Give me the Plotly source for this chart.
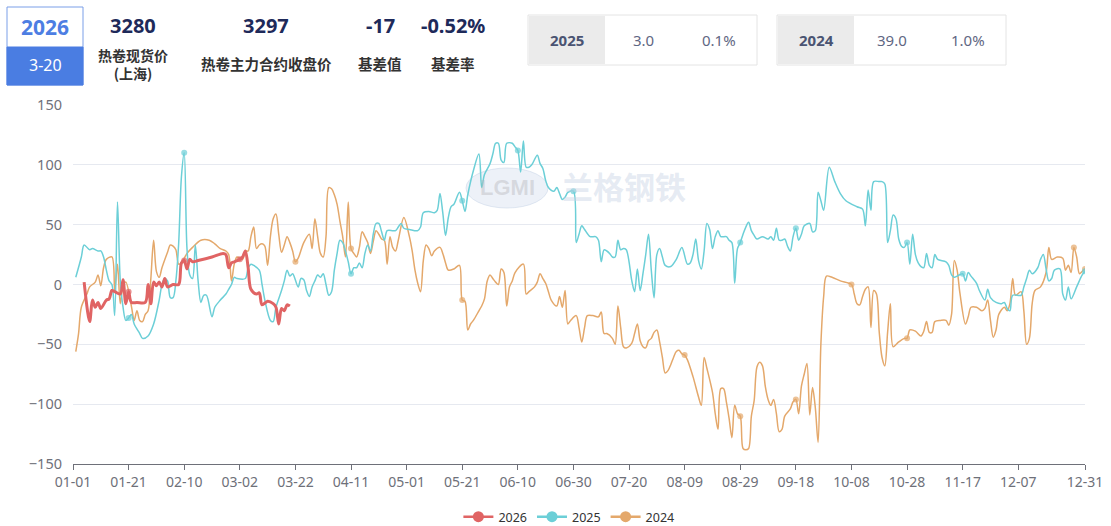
import plotly.graph_objects as go
import pandas as pd

# ---------------- data ----------------
# category axis: calendar days MM-DD (non-leap calendar)
cats = pd.date_range("2025-01-01", "2025-12-31").strftime("%m-%d").tolist()
tick_labels = ["01-01", "01-21", "02-10", "03-02", "03-22", "04-11", "05-01", "05-21",
               "06-10", "06-30", "07-20", "08-09", "08-29", "09-18", "10-08", "10-28",
               "11-17", "12-07", "12-31"]

# day index (0 = 01-01) and basis values
day26 = [4, 6, 7, 8, 9, 10, 12, 13, 14, 15, 17, 18, 19, 20, 21, 23, 26, 27, 28, 29, 30, 31, 32, 33, 34,
         36, 38, 39, 40, 41, 42, 43, 45, 50, 54, 55, 56, 57, 58, 60, 61, 62, 63, 64, 66, 67, 68, 70,
         72, 73, 74, 75, 76, 77, 78]
val26 = [2, -31, -13, -19, -15, -20, -13, -12, -5, -6, -8, 4, -16, -6, -15, -15, -15, 0, -16, 2, -1, 2, -2, 5, -2,
         0, 0, 18, 20, 13, 21, 19, 20, 23, 26, 25, 14, 18, 19, 21, 23, 28, 14, -4, -8, -7, -17, -14,
         -16, -19, -33, -20, -22, -17, -18]

day25 = [1, 3, 4, 6, 7, 9, 10, 11, 12, 13, 14, 15, 16, 17, 18, 19, 20, 21, 22, 24, 25, 27, 29, 31, 32,
         33, 34, 35, 36, 37, 38, 39, 40, 41, 42, 43, 44, 45, 46, 47, 48, 50, 51, 53, 55, 56, 57, 58,
         59, 62, 63, 64, 65, 67, 68, 69, 71, 72, 73, 75, 76, 77, 78, 79, 81, 82, 83, 84, 85, 86, 87,
         88, 89, 90, 91, 92, 93, 94, 95, 96, 97, 98, 99, 100, 101, 102, 103, 104, 105, 106, 107, 108,
         109, 110, 111, 112, 113, 115, 116, 117, 118, 119, 121, 124, 125, 126, 128, 130, 131, 132,
         133, 134, 135, 136, 137, 139, 140, 141, 142, 144, 146, 147, 148, 150, 151, 152, 153, 154,
         155, 156, 158, 159, 160, 161, 162, 163, 164, 165, 167, 168, 169, 170, 171, 173, 174, 175,
         176, 177, 178, 180, 181, 182, 183, 184, 186, 188, 189, 190, 191, 192, 193, 194, 195, 196,
         197, 198, 199, 201, 202, 203, 204, 205, 206, 207, 208, 209, 210, 211, 212, 213, 215, 217,
         219, 221, 222, 223, 224, 225, 226, 227, 228, 229, 230, 231, 232, 233, 235, 236, 237, 238,
         239, 240, 241, 242, 243, 244, 245, 246, 248, 250, 251, 252, 253, 254, 255, 256, 257, 258,
         259, 260, 261, 262, 263, 265, 266, 267, 268, 269, 270, 272, 274, 276, 278, 282, 284, 285,
         286, 287, 288, 290, 291, 292, 293, 294, 295, 296, 297, 298, 299, 300, 301, 302, 303, 304,
         305, 306, 307, 308, 309, 310, 311, 314, 315, 316, 317, 318, 320, 321, 322, 323, 325, 326,
         328, 329, 330, 332, 334, 335, 336, 337, 338, 341, 342, 343, 344, 345, 347, 348, 349, 350,
         351, 352, 353, 355, 356, 357, 358, 359, 361, 363, 364]
val25 = [6, 23, 33, 29, 30, 28, 28, 23, 12, 3, 0, -26, 69, 3, -19, -30, -28, -25, -33, -41, -45, -43, -33, -13, 0,
         5, 3, -11, -11, 3, 34, 90, 110, 30, 8, 5, 33, 3, -15, -9, -9, -27, -19, -13, -8, -4, 0, 6,
         5, 5, 14, 17, 16, 12, 0, -13, -30, -31, -19, -5, 3, 12, 7, 9, -2, 5, 4, -5, -10, -2, 3,
         8, 6, 9, 0, -9, -6, 12, 26, 37, 35, 28, 19, 9, 14, 14, 18, 14, 26, 33, 28, 42,
         51, 51, 44, 37, 45, 45, 45, 48, 51, 47, 46, 45, 48, 60, 61, 60, 62, 76,
         60, 41, 56, 65, 67, 77, 70, 61, 75, 95, 109, 81, 92, 101, 109, 118, 118, 104,
         102, 118, 118, 115, 112, 94, 120, 98, 98, 100, 108, 101, 97, 87, 81, 78, 81, 76,
         71, 73, 77, 78, 35, 42, 49, 46, 40, 40, 37, 19, 29, 28, 26, 23, 23, 37,
         29, 30, 29, 3, -6, 13, -5, 9, 25, 42, 12, -11, 25, 30, 23, 16, 15, 21,
         31, 17, 18, 25, 38, 20, 13, 28, 51, 46, 30, 40, 45, 40, 40, 37, 35, 1,
         30, 35, 42, 48, 52, 45, 41, 38, 40, 38, 40, 37, 47, 37, 37, 38, 32, 28,
         40, 47, 37, 42, 49, 51, 44, 45, 77, 70, 62, 98, 86, 76, 70, 65, 63, 49,
         79, 62, 86, 86, 86, 84, 35, 45, 58, 55, 38, 32, 31, 35, 17, 42, 25, 18,
         15, 14, 26, 16, 14, 25, 21, 19, 16, 8, 6, 7, 9, 3, 10, 7, 1, -5,
         -13, -4, -11, -15, -16, -15, -20, -22, -9, -9, -2, 5, 12, 9, 14, 21, 25, 13,
         3, 5, 12, 13, -8, -13, -2, -12, -2, 8, 11]

day24 = [1, 2, 3, 5, 6, 8, 9, 10, 11, 12, 14, 15, 16, 17, 18, 19, 21, 22, 23, 24, 25, 26, 27, 28, 29,
         30, 31, 32, 34, 35, 36, 37, 38, 39, 41, 43, 46, 49, 51, 53, 55, 56, 57, 58, 59, 61, 62, 63,
         64, 65, 66, 67, 68, 69, 70, 71, 72, 73, 74, 75, 76, 77, 78, 79, 80, 81, 83, 85, 86, 87, 88,
         89, 90, 91, 92, 93, 94, 95, 96, 97, 98, 99, 100, 101, 102, 103, 104, 105, 106, 107, 108,
         109, 110, 111, 112, 113, 114, 115, 116, 117, 119, 121, 122, 123, 124, 125, 126, 127, 128,
         129, 130, 132, 133, 134, 135, 137, 139, 140, 141, 142, 143, 144, 146, 147, 148, 149, 150,
         151, 152, 153, 154, 155, 156, 157, 158, 159, 162, 163, 164, 166, 167, 168, 169, 170, 171,
         172, 174, 175, 176, 177, 178, 179, 181, 182, 183, 184, 185, 187, 189, 190, 191, 192, 194,
         195, 196, 197, 198, 199, 201, 202, 203, 204, 205, 206, 207, 208, 209, 210, 211, 212, 213,
         214, 215, 216, 217, 218, 219, 220, 221, 223, 225, 226, 227, 228, 230, 231, 232, 233, 234,
         235, 236, 237, 238, 239, 240, 241, 242, 243, 244, 245, 246, 247, 248, 249, 250, 251, 252,
         253, 254, 255, 256, 258, 259, 260, 261, 262, 263, 264, 265, 266, 267, 268, 269, 270, 271,
         273, 276, 280, 281, 282, 283, 284, 285, 286, 287, 288, 289, 290, 291, 292, 293, 294, 295,
         297, 299, 300, 301, 303, 305, 306, 307, 308, 309, 310, 312, 314, 315, 316, 317, 318, 319,
         321, 322, 323, 325, 327, 328, 329, 330, 331, 332, 333, 335, 336, 337, 338, 339, 341, 342,
         343, 344, 345, 346, 348, 350, 351, 352, 354, 356, 357, 358, 359, 360, 361, 362, 363, 364]
val24 = [-56, -41, -19, -8, -2, 2, 8, -1, 14, 21, 23, -5, 17, -16, -1, 2, -18, -30, -22, -30, -31, -25, -22, 5, 37,
         11, 6, 14, 27, 33, 32, 29, 17, 18, 26, 31, 37, 37, 34, 30, 28, 25, 3, 17, 23, 21, 28, 28,
         40, 48, 30, 33, 34, 32, 16, 40, 55, 59, 42, 27, 33, 40, 35, 28, 19, 22, 35, 42, 30, 55, 40,
         26, 23, 40, 81, 80, 75, 67, 53, 40, 23, 69, 30, 26, 23, 31, 44, 40, 35, 26, 36,
         45, 42, 38, 37, 17, 40, 31, 28, 37, 56, 40, 28, 12, 1, -6, 20, 33, 30,
         24, 28, 31, 26, 18, 12, 13, 16, -13, -14, -38, -33, -30, -22, -18, -12, 3, 8,
         5, 2, 0, 13, 10, -18, -2, 3, 10, 17, -8, -6, -2, 2, 9, 5, 1, -6,
         -13, -18, -10, -19, -5, -33, -30, -26, -36, -48, -36, -26, -26, -27, -23, -41, -41, -45,
         -50, -18, -36, -52, -53, -49, -41, -33, -47, -52, -53, -47, -45, -40, -38, -48, -61, -74,
         -72, -67, -61, -56, -55, -58, -59, -63, -77, -94, -101, -61, -70, -90, -108, -121, -87, -87,
         -98, -112, -128, -101, -108, -110, -137, -138, -137, -110, -97, -69, -65, -68, -85, -96, -101, -96,
         -108, -123, -121, -110, -104, -98, -96, -108, -85, -75, -66, -109, -86, -103, -132, -50, -10, 7,
         6, 3, 0, -8, -16, -17, -10, -4, -2, -36, -5, -8, -40, -61, -68, -40, -16, -52,
         -48, -45, -45, -38, -39, -43, -39, -31, -40, -40, -31, -30, -30, -34, -25, 20, 12, -7,
         -33, -27, -19, -19, -22, -20, -13, -30, -44, -38, -25, -19, -22, -16, 5, -9, -6, -22,
         -50, -45, -16, -5, -2, 10, 31, 21, 23, 22, 12, 16, 10, 31, 23, 9, 11, 13]

series_names = ["2026", "2025", "2024"]
series_days = [day26, day25, day24]
series_vals = [val26, val25, val24]

# header figures
header_date_year = "2026"
header_date_day = "3-20"
spot_price = "3280"
futures_price = "3297"
basis_value = "-17"
basis_rate = "-0.52%"
compare_years = ["2025", "2024"]
compare_basis = ["3.0", "39.0"]
compare_rate = ["0.1%", "1.0%"]

# ---------------- style ----------------
colors = {"2026": "#e06464", "2025": "#6ccfd7", "2024": "#e4a86b"}
widths = {"2026": 3, "2025": 1.5, "2024": 1.5}
FONT = "Noto Sans, Noto Sans CJK SC, sans-serif"
CJK = "Noto Sans CJK SC, Noto Sans, sans-serif"
AXIS_GREY = "#6e7079"

PL, PR, PT, PB = 73, 1085, 105, 464


def fx(px):
    return (px - PL) / (PR - PL)


def fy(py):
    return (PB - py) / (PB - PT)


fig = go.Figure()

# legend-only entries (line + circle icon)
for name in series_names:
    fig.add_trace(go.Scatter(
        x=[None], y=[None], name=name, mode="lines+markers",
        line=dict(color=colors[name], width=2.5),
        marker=dict(color=colors[name], size=11),
        legendgroup=name, showlegend=True))

# data lines (2026 drawn on top)
for name, days, vals in reversed(list(zip(series_names, series_days, series_vals))):
    sizes = [6 if (d % 20 == 0 or d == 364) else 0 for d in days]
    fig.add_trace(go.Scatter(
        x=[cats[d] for d in days], y=vals, name=name, mode="lines+markers",
        line=dict(color=colors[name], width=widths[name], shape="spline", smoothing=0.9),
        marker=dict(color=colors[name], size=sizes, line=dict(width=0)),
        legendgroup=name, showlegend=False))

shapes = []
annotations = []


def text(cx, cy, s, size, color, bold=False, family=FONT):
    annotations.append(dict(
        x=fx(cx), y=fy(cy), xref="paper", yref="paper", text=f"<b>{s}</b>" if bold else s,
        showarrow=False, xanchor="center", yanchor="middle", align="center",
        font=dict(size=size, color=color, family=family)))


def rect(x0, y0, x1, y1, fill, line_color=None, line_width=0, layer="above"):
    shapes.append(dict(
        type="rect", xref="paper", yref="paper", x0=fx(x0), x1=fx(x1), y0=fy(y1), y1=fy(y0),
        fillcolor=fill, line=dict(color=line_color or fill, width=line_width), layer=layer))


# watermark
shapes.append(dict(type="circle", xref="paper", yref="paper", x0=fx(466), x1=fx(548),
                   y0=fy(208), y1=fy(168), fillcolor="rgba(222,230,242,0.55)",
                   line=dict(color="rgba(205,216,234,0.6)", width=1), layer="below"))
text(507, 187, "LGMI", 22, "rgba(185,185,190,0.45)", bold=True, family="Liberation Sans, sans-serif")
text(624, 185, "兰格钢铁", 31, "rgba(198,210,228,0.45)", bold=True, family=CJK)

# date box
rect(7, 7, 83, 85, "#ffffff", "#7a9fe8", 1)
rect(7, 47, 83, 85, "#4a7de2", "#4a7de2", 1)
text(45, 27, header_date_year, 21, "#4d7ee3", bold=True)
text(45, 65, header_date_day, 16, "#ffffff")

# headline numbers
navy = "#1e2a5a"
label = "#333333"
text(133, 25, spot_price, 20, navy, bold=True)
text(133, 64, "<b>热卷现货价</b><br><b>(上海)</b>", 14, label, family=CJK)
text(266, 25, futures_price, 20, navy, bold=True)
text(266, 63, "热卷主力合约收盘价", 14.5, label, bold=True, family=CJK)
text(380, 25, basis_value, 20, navy, bold=True)
text(380, 63, "基差值", 14.5, label, bold=True, family=CJK)
text(453, 25, basis_rate, 20, navy, bold=True)
text(453, 63, "基差率", 14.5, label, bold=True, family=CJK)

# comparison boxes
box_x = [528, 777]
for i, (yr, bv, br) in enumerate(zip(compare_years, compare_basis, compare_rate)):
    x0 = box_x[i]
    rect(x0, 15, x0 + 229, 65, "#ffffff", "#e4e4e4", 1)
    rect(x0 + 1, 16, x0 + 77, 64, "#ebebeb", "#ebebeb", 0)
    text(x0 + 39, 40, yr, 15, "#4a5472", bold=True)
    text(x0 + 115, 40, bv, 15, "#5f6783")
    text(x0 + 191, 40, br, 15, "#5f6783")

fig.update_layout(
    width=1111, height=526,
    margin=dict(l=PL, r=1111 - PR, t=PT, b=526 - PB, autoexpand=False),
    paper_bgcolor="#ffffff", plot_bgcolor="#ffffff",
    font=dict(family=FONT, color=AXIS_GREY),
    shapes=shapes, annotations=annotations,
    showlegend=True,
    legend=dict(orientation="h", x=0.49, xanchor="center", y=fy(517), yanchor="middle",
                font=dict(size=12.5, color="#333333"), itemwidth=30, bgcolor="rgba(0,0,0,0)"),
    xaxis=dict(type="category", categoryorder="array", categoryarray=cats, automargin=False,
               range=[0, len(cats) - 1], tickmode="array", tickvals=tick_labels, ticktext=tick_labels,
               showgrid=False, zeroline=False, showline=True, linecolor=AXIS_GREY, linewidth=1,
               ticks="outside", ticklen=5, tickcolor=AXIS_GREY, tickwidth=1,
               tickfont=dict(size=14, color=AXIS_GREY), tickangle=0),
    yaxis=dict(range=[-150, 150], tick0=0, dtick=50, showgrid=True, gridcolor="#e6e9f0", gridwidth=1.3,
               zeroline=False, showline=False, ticks="", ticklabelstandoff=10, automargin=False,
               tickfont=dict(size=14.5, color=AXIS_GREY)),
    hovermode="x",
)

fig.write_html("out.html", config={"displayModeBar": False},
               post_script="document.body.style.margin='0';")
